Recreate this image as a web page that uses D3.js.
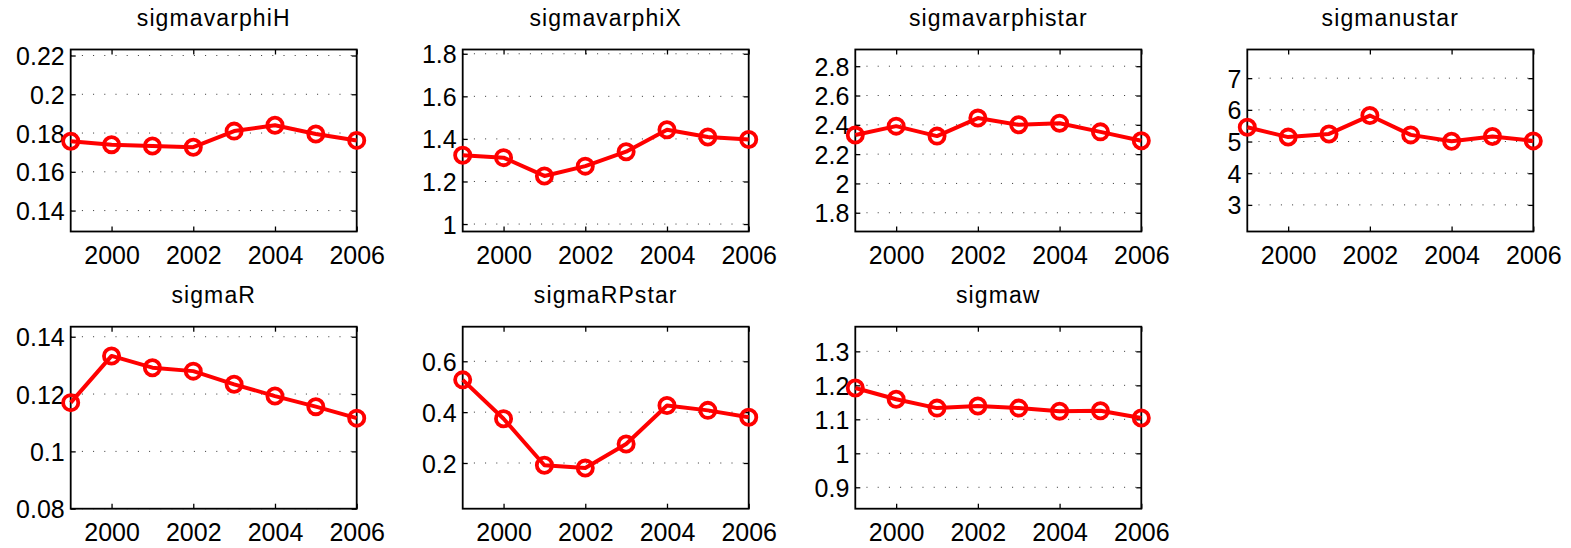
<!DOCTYPE html>
<html>
<head>
<meta charset="utf-8">
<script src="https://cdn.jsdelivr.net/npm/d3@7"></script>
<style>
  body { margin: 0; background: #fff; }
  text { font-family: "Liberation Sans", Arial, sans-serif; fill: #000; }
</style>
</head>
<body>
<div id="chart"></div>
<script>
const years = [1999, 2000, 2001, 2002, 2003, 2004, 2005, 2006];
const xTicks = [2000, 2002, 2004, 2006];

const names = ["sigmavarphiH", "sigmavarphiX", "sigmavarphistar", "sigmanustar",
               "sigmaR", "sigmaRPstar", "sigmaw"];

const sigmavarphiH    = [0.1758, 0.1740, 0.1733, 0.1727, 0.1810, 0.1840, 0.1795, 0.1762];
const sigmavarphiX    = [1.323, 1.312, 1.226, 1.272, 1.340, 1.443, 1.409, 1.397];
const sigmavarphistar = [2.330, 2.391, 2.323, 2.446, 2.400, 2.411, 2.352, 2.291];
const sigmanustar     = [5.45, 5.14, 5.24, 5.82, 5.21, 5.01, 5.16, 5.02];
const sigmaR          = [0.1170, 0.1333, 0.1292, 0.1280, 0.1234, 0.1193, 0.1156, 0.1116];
const sigmaRPstar     = [0.527, 0.374, 0.191, 0.180, 0.275, 0.426, 0.407, 0.380];
const sigmaw          = [1.192, 1.159, 1.133, 1.139, 1.133, 1.124, 1.125, 1.104];

const series = [sigmavarphiH, sigmavarphiX, sigmavarphistar, sigmanustar, sigmaR, sigmaRPstar, sigmaw];

const yDomains = [[0.1292, 0.2231], [0.965, 1.820], [1.672, 2.914], [2.16, 7.905],
                  [0.08, 0.1435], [0.0203, 0.736], [0.837, 1.3725]];
const yTicks = [[0.14, 0.16, 0.18, 0.2, 0.22], [1, 1.2, 1.4, 1.6, 1.8],
                [1.8, 2, 2.2, 2.4, 2.6, 2.8], [3, 4, 5, 6, 7],
                [0.08, 0.1, 0.12, 0.14], [0.2, 0.4, 0.6], [0.9, 1, 1.1, 1.2, 1.3]];

const W = 1571, H = 548;
const lefts = [70.7, 462.7, 855.3, 1247.3];
const tops = [49.5, 326.7];
const pw = 286, ph = 182;

const svg = d3.select("#chart").append("svg")
    .attr("width", W).attr("height", H);

names.forEach((name, i) => {
    const col = i % 4, row = Math.floor(i / 4);
    const g = svg.append("g")
        .attr("transform", `translate(${lefts[col]},${tops[row]})`);

    const x = d3.scaleLinear().domain([1999, 2006]).range([0, pw]);
    const y = d3.scaleLinear().domain(yDomains[i]).range([ph, 0]);

    // dotted grid
    g.selectAll(".grid")
        .data(yTicks[i])
        .enter().append("line")
        .attr("x1", 0).attr("x2", pw)
        .attr("y1", d => y(d)).attr("y2", d => y(d))
        .attr("stroke", "#333")
        .attr("stroke-width", 1)
        .attr("stroke-dasharray", "1,10.2");

    // axes with inward ticks
    const axL = g.append("g").call(d3.axisLeft(y).tickValues(yTicks[i])
        .tickFormat(d3.format("~g")).tickSizeInner(-5).tickSizeOuter(0).tickPadding(6));
    const axR = g.append("g").attr("transform", `translate(${pw},0)`)
        .call(d3.axisRight(y).tickValues(yTicks[i]).tickFormat("").tickSizeInner(-5).tickSizeOuter(0));
    const axB = g.append("g").attr("transform", `translate(0,${ph})`)
        .call(d3.axisBottom(x).tickValues(xTicks).tickFormat(d3.format("d"))
        .tickSizeInner(-5).tickSizeOuter(0).tickPadding(14));
    const axT = g.append("g")
        .call(d3.axisTop(x).tickValues(xTicks).tickFormat("").tickSizeInner(-5).tickSizeOuter(0));

    [axL, axR, axB, axT].forEach(a => {
        a.select(".domain").remove();
        a.selectAll("line").attr("stroke", "#000").attr("stroke-width", 1.3);
        a.selectAll("text")
            .style("font-family", "'Liberation Sans', Arial, sans-serif")
            .style("font-size", "25px").attr("fill", "#000");
    });
    axL.selectAll("text").attr("dy", "0.36em");
    axB.selectAll("text").attr("dy", "0.72em");

    // box
    g.append("rect")
        .attr("x", 0).attr("y", 0).attr("width", pw).attr("height", ph)
        .attr("fill", "none").attr("stroke", "#000").attr("stroke-width", 1.8);

    // line + markers
    const line = d3.line().x((d, k) => x(years[k])).y(d => y(d));
    g.append("path")
        .datum(series[i])
        .attr("d", line)
        .attr("fill", "none")
        .attr("stroke", "#ff0000")
        .attr("stroke-width", 4)
        .attr("stroke-linejoin", "round");
    g.selectAll(".mk")
        .data(series[i])
        .enter().append("circle")
        .attr("cx", (d, k) => x(years[k]))
        .attr("cy", d => y(d))
        .attr("r", 7.6)
        .attr("fill", "none")
        .attr("stroke", "#ff0000")
        .attr("stroke-width", 3.8);

    // title
    g.append("text")
        .attr("x", pw / 2).attr("y", -23.5)
        .attr("text-anchor", "middle")
        .style("font-size", "23px")
        .style("letter-spacing", "1.1px")
        .text(name);
});
</script>
</body>
</html>
